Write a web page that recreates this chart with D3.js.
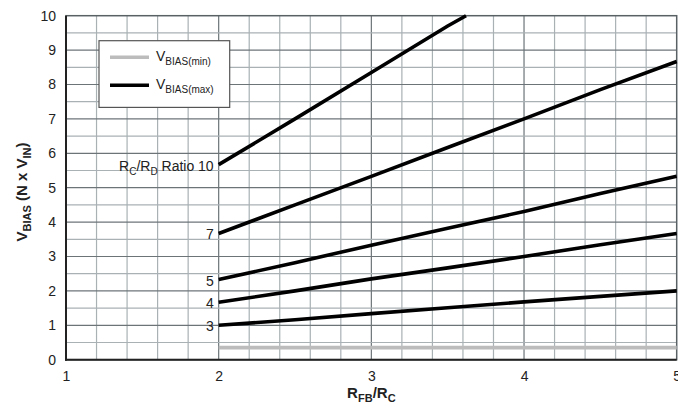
<!DOCTYPE html>
<html>
<head>
<meta charset="utf-8">
<script src="https://cdn.jsdelivr.net/npm/d3@7"></script>
<style>
  body { margin: 0; background: #fff; }
  text { font-family: "Liberation Sans", Arial, Helvetica, sans-serif; fill: #222; }
</style>
</head>
<body>
<div id="chart"></div>
<script>
// data
const xTicks = [1, 2, 3, 4, 5];
const yTicks = [0, 1, 2, 3, 4, 5, 6, 7, 8, 9, 10];
const rfb = [2, 2.5, 3, 3.5, 4, 4.5, 5];
const ratio3 = [1.0, 1.16, 1.34, 1.51, 1.68, 1.84, 2.0];
const ratio4 = [1.67, 2.0, 2.35, 2.67, 3.0, 3.34, 3.67];
const ratio5 = [2.33, 2.82, 3.33, 3.82, 4.31, 4.83, 5.33];
const ratio7 = [3.67, 4.5, 5.33, 6.17, 7.0, 7.85, 8.67];
const ratio10x = [2, 2.5, 3, 3.5, 3.62];
const ratio10 = [5.67, 7.0, 8.35, 9.7, 10.0];
const vminX = [2, 5];
const vmin = [0.35, 0.35];
const ratioLabels = ["3", "4", "5", "7", "R_C/R_D Ratio 10"];

const W = 678, H = 408;
const pLeft = 66, pTop = 15.7, pRight = 676.7, pBottom = 359.7;

const svg = d3.select('#chart').append('svg')
  .attr('width', W)
  .attr('height', H);

const x = d3.scaleLinear().domain([1, 5]).range([pLeft, pRight]);
const y = d3.scaleLinear().domain([0, 10]).range([pBottom, pTop]);

// grid
const g = svg.append('g');
d3.range(1.2, 5, 0.2).forEach(v => {
  const major = Math.abs(v - Math.round(v)) < 1e-6;
  g.append('line')
    .attr('x1', x(v)).attr('x2', x(v))
    .attr('y1', pTop).attr('y2', pBottom)
    .attr('stroke', major ? '#6c7478' : '#a9b1b4')
    .attr('stroke-width', 1.2);
});
d3.range(0.5, 10, 0.5).forEach(v => {
  const major = Math.abs(v - Math.round(v)) < 1e-6;
  g.append('line')
    .attr('x1', pLeft).attr('x2', pRight)
    .attr('y1', y(v)).attr('y2', y(v))
    .attr('stroke', major ? '#6c7478' : '#a9b1b4')
    .attr('stroke-width', 1.2);
});

// frame
svg.append('rect')
  .attr('x', pLeft).attr('y', pTop)
  .attr('width', pRight - pLeft).attr('height', pBottom - pTop)
  .attr('fill', 'none')
  .attr('stroke', '#5a6165')
  .attr('stroke-width', 1.5);
svg.append('line')
  .attr('x1', pLeft).attr('x2', pLeft).attr('y1', pTop).attr('y2', pBottom + 1)
  .attr('stroke', '#222').attr('stroke-width', 2);
svg.append('line')
  .attr('x1', pLeft - 1).attr('x2', pRight).attr('y1', pBottom).attr('y2', pBottom)
  .attr('stroke', '#222').attr('stroke-width', 2);

// axes (labels only)
const xAxis = svg.append('g')
  .attr('transform', `translate(0,${pBottom + 8})`)
  .call(d3.axisBottom(x).tickValues(xTicks).tickSize(0).tickFormat(d3.format('d')));
xAxis.select('.domain').remove();
xAxis.selectAll('text').style('font-size', '14px').attr('fill', '#222');

const yAxis = svg.append('g')
  .attr('transform', `translate(${pLeft - 7},0)`)
  .call(d3.axisLeft(y).tickValues(yTicks).tickSize(0).tickFormat(d3.format('d')));
yAxis.select('.domain').remove();
yAxis.selectAll('text').style('font-size', '14px').attr('fill', '#222');

// series
const line = d3.line().x(d => x(d[0])).y(d => y(d[1]));
const series = [
  [rfb, ratio3], [rfb, ratio4], [rfb, ratio5], [rfb, ratio7], [ratio10x, ratio10]
];
series.forEach(s => {
  svg.append('path')
    .datum(d3.zip(s[0], s[1]))
    .attr('fill', 'none')
    .attr('stroke', '#000')
    .attr('stroke-width', 3.6)
    .attr('d', line);
});
svg.append('path')
  .datum(d3.zip(vminX, vmin))
  .attr('fill', 'none')
  .attr('stroke', '#bcbcbc')
  .attr('stroke-width', 3.8)
  .attr('d', line);

// ratio labels at the start of each curve
series.forEach((s, i) => {
  const t = svg.append('text')
    .attr('x', x(2) - 5)
    .attr('y', y(s[1][0]) + 6)
    .attr('text-anchor', 'end')
    .style('font-size', '14px');
  if (i < 4) {
    t.text(ratioLabels[i]);
  } else {
    t.append('tspan').text('R');
    t.append('tspan').attr('dy', 4).style('font-size', '10px').text('C');
    t.append('tspan').attr('dy', -4).text('/R');
    t.append('tspan').attr('dy', 4).style('font-size', '10px').text('D');
    t.append('tspan').attr('dy', -4).text(' Ratio 10');
  }
});

// legend
const lg = svg.append('g');
lg.append('rect')
  .attr('x', 99).attr('y', 40.7)
  .attr('width', 130.7).attr('height', 66.7)
  .attr('fill', '#fff')
  .attr('stroke', '#555')
  .attr('stroke-width', 1.2);
[['#bcbcbc', '(min)', 57.3], ['#000', '(max)', 85.3]].forEach(d => {
  lg.append('line')
    .attr('x1', 110).attr('x2', 149)
    .attr('y1', d[2]).attr('y2', d[2])
    .attr('stroke', d[0]).attr('stroke-width', 3.6);
  const t = lg.append('text')
    .attr('x', 156).attr('y', d[2] + 4)
    .style('font-size', '14px');
  t.append('tspan').text('V');
  t.append('tspan').attr('dy', 4).style('font-size', '10px').text('BIAS' + d[1]);
});

// axis titles
const xt = svg.append('text')
  .attr('x', x(3)).attr('y', 398)
  .attr('text-anchor', 'middle')
  .style('font-size', '15px').style('font-weight', 'bold');
xt.append('tspan').text('R');
xt.append('tspan').attr('dy', 4).style('font-size', '11px').text('FB');
xt.append('tspan').attr('dy', -4).text('/R');
xt.append('tspan').attr('dy', 4).style('font-size', '11px').text('C');

const yt = svg.append('text')
  .attr('transform', 'translate(27,192) rotate(-90)')
  .attr('text-anchor', 'middle')
  .style('font-size', '15px').style('font-weight', 'bold');
yt.append('tspan').text('V');
yt.append('tspan').attr('dy', 4).style('font-size', '11px').text('BIAS');
yt.append('tspan').attr('dy', -4).text(' (N x V');
yt.append('tspan').attr('dy', 4).style('font-size', '11px').text('IN');
yt.append('tspan').attr('dy', -4).text(')');
</script>
</body>
</html>
